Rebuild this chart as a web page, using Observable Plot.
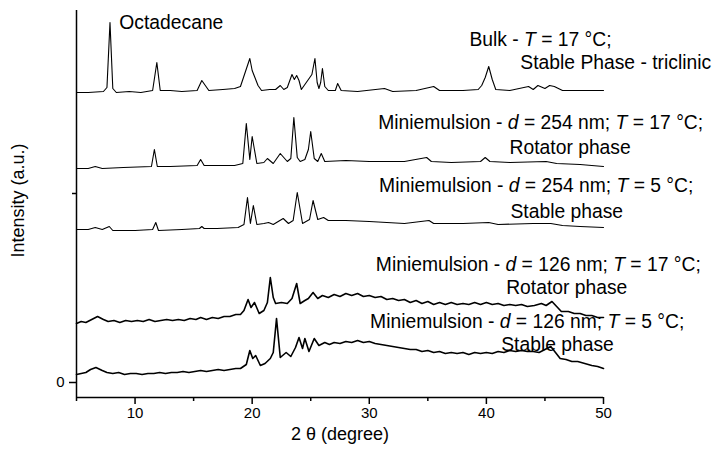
<!DOCTYPE html>
<html><head><meta charset="utf-8">
<script src="https://cdn.jsdelivr.net/npm/d3@7"></script>
<script src="https://cdn.jsdelivr.net/npm/@observablehq/plot@0.6"></script>
<style>body{margin:0;background:#fff}</style>
</head><body><div id="chart"></div>
<script>
// 2θ (degree) and intensity (a.u., traces offset vertically)
const bulkTheta = [5.0,6.0,7.3,7.6,7.86,8.1,8.4,9.5,10.5,11.5,11.86,12.15,13,14,15.3,15.7,16.0,16.3,17.5,18.5,19.0,19.4,19.8,20.0,20.2,20.5,20.8,21.5,22.0,22.4,22.7,23.0,23.4,23.6,23.8,24.0,24.2,24.5,24.8,25.1,25.36,25.55,25.7,25.85,26.0,26.2,26.5,27.1,27.3,27.6,29,31.3,32,34,35.5,36,38,39.3,39.6,39.9,40.2,40.5,40.8,42,43.6,44,44.4,45,45.4,45.8,46.5,48,50];
const bulkI =     [290,290,291,295,360,294,290,291,290,292,320,292,292,291,292,302,297,292,293,294,296,310,324,312,306,297,292,293,293,297,293,295,308,303,307,302,293,298,303,308,324,300,294,300,314,296,292,292,299,292,291,294,291,292,296,292,292,293,297,305,316,303,293,292,296,293,297,294,297,296,292,292,292];

const m254hTheta = [5.0,6.0,6.6,7.2,9,11.4,11.65,11.9,13,15.3,15.6,15.9,17,18.5,19.2,19.5,19.8,20.0,20.4,21.0,21.3,21.8,22.4,23.0,23.3,23.56,23.85,24.1,24.5,24.8,25.0,25.3,25.6,25.9,26.2,28,30,33,34.9,35.3,37,39.5,39.9,40.3,42,45.1,46,48,50];
const m254hI =     [214,214,216,214,215,216,233,216,216,217,223,217,217,217,219,259,223,246,219,220,224,219,229,221,224,265,225,221,223,233,251,224,221,229,221,222,221,221,225,221,220,221,225,221,220,221,219,218,216];

const m254cTheta = [5.0,6.0,6.6,7.2,7.8,8.1,10,11.5,11.77,12.0,14,15.5,15.7,15.9,17,18.8,19.3,19.6,19.85,20.1,20.4,21.0,21.4,21.8,22.65,23.1,23.5,23.85,24.3,24.9,25.2,25.6,26.1,26.5,28,30,33,35.1,35.5,38,40.2,41,44,45.5,46.5,48,50];
const m254cI =     [153,153,155,153,156,152,152,153,160,152,153,154,156,154,154,155,158,185,159,177,158,159,160,158,164,159,162,190,159,163,182,163,165,162,162,161,159,162,159,159,160,158,159,159,157,156,155];

const m126hTheta = [5.0,5.4,5.8,6.3,6.8,7.3,7.7,8.2,8.7,9.2,9.7,10.2,10.7,11.2,11.7,12.2,12.7,13.2,13.7,14.2,14.7,15.2,15.6,16.1,16.6,17.1,17.6,18.1,18.6,19.0,19.3,19.65,19.9,20.2,20.6,21.0,21.3,21.55,21.8,22.0,22.5,23.0,23.4,23.8,24.1,24.5,24.8,25.2,25.6,26.0,26.5,27,27.5,28,28.5,29,29.5,30,30.5,31,31.5,32,32.5,33,33.5,34,34.5,35,35.5,36,36.5,37,37.5,38,38.5,39,39.5,40,40.5,41,41.5,42,42.5,43,43.5,44.1,44.7,45.1,45.6,46.0,46.4,47,47.5,48,48.5,49,49.5,50];
const m126hI =     [59,61,60,63,66,63,61,62,60,62,61,62,61,63,61,62,63,62,63,62,64,63,65,63,65,64,66,66,68,68,72,83,75,80,69,72,80,105,85,79,80,79,84,99,79,82,84,90,84,87,85,88,86,89,87,89,86,87,85,86,83,84,82,83,80,82,79,81,78,80,78,80,78,79,78,80,78,80,78,79,77,78,77,78,76,77,79,77,81,76,71,71,69,69,67,67,65,65];

const m126cTheta = [5.0,5.4,5.8,6.2,6.66,7.2,7.6,8.1,8.6,9.1,9.6,10.1,10.6,11.1,11.6,12.1,12.6,13.1,13.6,14.1,14.6,15.1,15.6,16.1,16.6,17.1,17.6,18.1,18.6,19.0,19.5,19.8,20.05,20.3,20.7,21.1,21.55,21.8,22.08,22.4,22.9,23.3,23.7,24.0,24.3,24.5,24.85,25.3,25.7,26.2,26.6,27,27.5,28,28.5,29,29.5,30,30.5,31,31.5,32,32.5,33,33.5,34,34.5,35,35.5,36,36.5,37,37.5,38,38.5,39,39.5,40,40.5,41,41.5,42,42.5,43,43.5,44,44.5,45.0,45.5,45.9,46.3,46.8,47.3,47.8,48.4,49,49.5,50];
const m126cI =     [8,9,10,13,15,12,10,9,10,8,9,9,8,9,9,10,9,10,10,11,10,11,12,11,12,13,12,13,14,14,18,32,24,27,17,19,24,30,64,25,30,26,35,45,34,44,31,44,37,40,38,40,39,41,40,42,40,41,39,38,37,36,35,34,33,33,31,32,30,31,29,30,29,30,28,30,29,30,29,31,30,32,31,32,31,31,30,33,36,30,24,23,21,21,19,17,16,14];

const seriesNames = ["Bulk 17 °C","254 nm 17 °C","254 nm 5 °C","126 nm 17 °C","126 nm 5 °C"];
const seriesTheta = [bulkTheta, m254hTheta, m254cTheta, m126hTheta, m126cTheta];
const seriesI = [bulkI, m254hI, m254cI, m126hI, m126cI];

// labels: [text, 2θ position, intensity position]
const labelText = ["Octadecane",
  "Bulk - T = 17 °C;", "Stable Phase - triclinic",
  "Miniemulsion - d = 254 nm; T = 17 °C;", "Rotator phase",
  "Miniemulsion - d = 254 nm; T = 5 °C;", "Stable phase",
  "Miniemulsion - d = 126 nm; T = 17 °C;", "Rotator phase",
  "Miniemulsion - d = 126 nm; T = 5 °C;", "Stable phase"];
const labelTheta = [8.66, 38.55, 42.9, 30.76, 41.98, 30.84, 42.06, 30.56, 41.69, 30.07, 41.27];
const labelI =     [360, 343, 320, 260, 235, 197, 171, 118, 95, 61, 38];

const xMajor = [10,20,30,40,50];
const xMinor = [5,15,25,35,45];
const yMajor = [0];
const yMinor = [189];

const rows = [];
seriesNames.forEach((s,k) => seriesTheta[k].forEach((t,i) => rows.push({series:s, theta:t, I:seriesI[k][i], noisy: k >= 3})));
const labels = labelText.map((t,i) => ({text:t, theta:labelTheta[i], I:labelI[i]}));

const font = '"Liberation Sans", Arial, sans-serif';
const chart = Plot.plot({
  width: 714, height: 457,
  marginLeft: 76, marginRight: 111, marginTop: 10, marginBottom: 60,
  style: {fontFamily: font, fontSize: "15px", color: "#000", background: "#fff"},
  x: {domain: [5, 50]},
  y: {domain: [-15, 372]},
  marks: [
    Plot.line(rows.filter(d => !d.noisy), {x: "theta", y: "I", z: "series", stroke: "#000", strokeWidth: 1.1}),
    Plot.line(rows.filter(d => d.noisy), {x: "theta", y: "I", z: "series", stroke: "#000", strokeWidth: 1.6}),
    Plot.ruleX([5], {stroke: "#000", strokeWidth: 1.5}),
    Plot.ruleY([-15], {stroke: "#000", strokeWidth: 1.5}),
    Plot.axisX({ticks: xMajor, tickSize: 7, tickPadding: 3, tickFormat: d => String(d), label: null, strokeWidth: 1.5, fontSize: 15}),
    Plot.axisX({ticks: xMinor, tickSize: 4, tickFormat: () => "", label: null, strokeWidth: 1.5}),
    Plot.axisY({ticks: yMajor, tickSize: 7, tickPadding: 5, tickFormat: d => String(d), label: null, strokeWidth: 1.5, fontSize: 15}),
    Plot.axisY({ticks: yMinor, tickSize: 4, tickFormat: () => "", label: null, strokeWidth: 1.5}),
    Plot.text(labels, {x: "theta", y: "I", text: "text", textAnchor: "start", fontSize: 19.3, fill: "#000"}),
    Plot.text(["2 θ (degree)"], {frameAnchor: "bottom", dy: 42, fontSize: 18, fill: "#000"}),
    Plot.text(["Intensity (a.u.)"], {frameAnchor: "left", y: [182], dx: -58, rotate: -90, textAnchor: "middle", fontSize: 18, fill: "#000"})
  ]
});
// italic symbols d and T
chart.querySelectorAll("text").forEach(el => {
  const s = el.textContent;
  if (/(^| )([dT]) = /.test(s) && el.children.length === 0) {
    const parts = s.split(/(\b[dT](?= = ))/);
    el.textContent = "";
    parts.forEach(p => {
      const ts = document.createElementNS("http://www.w3.org/2000/svg", "tspan");
      ts.textContent = p;
      if (p === "d" || p === "T") ts.setAttribute("font-style", "italic");
      el.appendChild(ts);
    });
  }
});
document.getElementById("chart").appendChild(chart);
</script>
</body></html>
